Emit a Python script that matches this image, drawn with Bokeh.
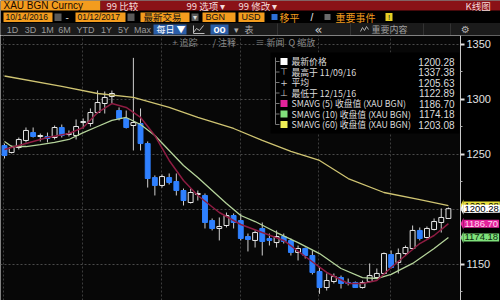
from bokeh.plotting import figure
from bokeh.models import Range1d, FixedTicker, Grid, Label
from bokeh.layouts import column
from bokeh.embed import file_html
from bokeh.resources import INLINE
from bokeh.core.properties import value

# ---------------- data ----------------
opens = [1257.7, 1251.4, 1255.9, 1262.3, 1269.5, 1265.9, 1265.9, 1265.0, 1274.1, 1267.7,
         1266.8, 1278.6, 1277.7, 1287.7, 1295.9, 1302.3, 1289.5, 1282.3, 1275.9, 1277.7,
         1259.5, 1228.6, 1221.4, 1228.6, 1225.0, 1216.8, 1205.9, 1213.2, 1212.3, 1189.5,
         1182.3, 1185.0, 1194.1, 1189.5, 1175.0, 1171.4, 1182.3, 1173.2, 1169.5, 1175.0,
         1171.4, 1160.5, 1164.1, 1157.7, 1143.2, 1128.6, 1134.1, 1137.7, 1133.2, 1133.2,
         1128.6, 1134.1, 1137.7, 1141.4, 1158.6, 1151.4, 1159.5, 1164.1, 1180.5, 1174.1,
         1181.4, 1187.7, 1191.4]
highs = [1259.5, 1257.7, 1265.0, 1274.1, 1274.1, 1268.6, 1269.5, 1275.9, 1276.8, 1271.4,
         1281.4, 1282.3, 1291.4, 1307.7, 1306.8, 1307.7, 1292.3, 1289.5, 1337.38, 1291.4,
         1261.4, 1230.5, 1231.4, 1232.3, 1232.3, 1218.6, 1218.6, 1216.8, 1214.1, 1191.4,
         1192.3, 1196.8, 1195.9, 1195.9, 1177.7, 1180.5, 1187.7, 1177.7, 1180.5, 1177.7,
         1173.2, 1166.8, 1165.0, 1162.3, 1146.8, 1141.4, 1141.4, 1139.5, 1136.8, 1134.1,
         1135.0, 1150.5, 1145.9, 1160.5, 1162.3, 1164.1, 1166.8, 1185.0, 1183.2, 1184.1,
         1191.4, 1200.5, 1201.4]
lows = [1245.9, 1250.5, 1254.1, 1260.5, 1265.0, 1261.4, 1260.5, 1263.2, 1265.0, 1265.9,
        1263.2, 1273.2, 1275.0, 1286.8, 1286.8, 1295.9, 1280.5, 1273.2, 1253.2, 1253.2,
        1219.5, 1212.3, 1219.5, 1222.3, 1212.3, 1203.2, 1205.0, 1207.7, 1182.3, 1180.5,
        1171.4, 1183.2, 1182.3, 1171.4, 1161.4, 1165.0, 1157.7, 1166.8, 1165.0, 1168.6,
        1157.7, 1153.2, 1155.0, 1140.5, 1122.89, 1125.9, 1132.3, 1127.7, 1130.5, 1128.2,
        1127.7, 1133.2, 1136.8, 1140.5, 1145.9, 1141.4, 1157.7, 1163.2, 1171.4, 1173.2,
        1180.5, 1178.6, 1191.4]
closes = [1248.6, 1255.9, 1263.2, 1271.4, 1265.9, 1266.8, 1264.1, 1274.1, 1266.8, 1268.6,
          1275.0, 1279.5, 1287.7, 1296.8, 1301.4, 1305.0, 1282.3, 1274.1, 1278.6, 1259.5,
          1227.7, 1221.4, 1229.5, 1224.1, 1216.8, 1207.7, 1215.0, 1214.1, 1187.7, 1182.3,
          1184.1, 1194.1, 1187.7, 1173.2, 1172.3, 1178.6, 1170.5, 1171.4, 1175.0, 1170.5,
          1160.5, 1164.1, 1157.7, 1142.3, 1128.6, 1135.0, 1138.6, 1132.3, 1132.3, 1128.6,
          1133.2, 1139.5, 1141.4, 1159.5, 1146.8, 1159.5, 1165.0, 1180.5, 1173.2, 1182.3,
          1188.6, 1192.3, 1200.28]

sma5_idx = [0, 3, 6, 9, 11, 13, 15, 17, 19, 21, 23, 25, 27, 30, 33, 36, 39, 42, 45, 48,
            50, 52, 54, 56, 58, 60, 62]
sma5 = [1254.1, 1259.5, 1265.0, 1268.6, 1274.1, 1287.7, 1295.9, 1292.3, 1283.2, 1266.8,
        1244.1, 1225.9, 1212.3, 1196.8, 1185.9, 1178.6, 1171.4, 1156.8, 1142.3, 1132.3,
        1132.3, 1135.0, 1146.8, 1157.7, 1168.6, 1175.9, 1186.70]
sma10_idx = [0, 1, 3, 5, 7, 9, 11, 13, 15, 17, 19, 21, 23, 25, 27, 29, 31, 33, 35, 38,
             41, 44, 47, 50, 52, 54, 57, 60, 62]
sma10 = [1261.4, 1256.8, 1256.8, 1258.6, 1260.5, 1263.2, 1269.5, 1275.0, 1280.5, 1283.2,
         1276.8, 1266.8, 1253.2, 1239.5, 1228.6, 1216.8, 1205.0, 1194.1, 1188.6, 1178.6,
         1169.5, 1159.5, 1145.9, 1137.7, 1136.8, 1140.5, 1150.5, 1164.1, 1174.18]
sma60_idx = [0, 8, 13, 18, 23, 27, 32, 36, 40, 44, 48, 53, 58, 62]
sma60 = [1320.9, 1311.4, 1305.0, 1301.4, 1292.3, 1283.2, 1273.2, 1262.3, 1252.3, 1244.1,
         1227.7, 1215.0, 1208.6, 1203.08]

price_ticks = [1150, 1200, 1250, 1300, 1350]
minor_price_ticks = [1125, 1175, 1225, 1275, 1325]

legend_labels = ["最新价格", "最高于 11/09/16", "平均", "最低于 12/15/16",
                 "SMAVG (5) 收盘值 (XAU BGN)", "SMAVG (10) 收盘值 (XAU BGN)",
                 "SMAVG (60) 收盘值 (XAU BGN)"]
legend_values = ["1200.28", "1337.38", "1205.63", "1122.89", "1186.70", "1174.18", "1203.08"]

tag_values = [1203.08, 1200.28, 1186.70, 1174.18]

# ---------------- geometry helpers (page pixels -> data) ----------------
X0, DX = 4.0, 7.16
PY_REF, PPU = 208.5, 1.1
def X(px):
    return (px - X0) / DX
def Y(py):
    return 1200 + (PY_REF - py) / PPU

CJK = value("Noto Sans CJK SC")
LAT = value("Liberation Sans")

# ---------------- header ----------------
h = figure(width=500, height=35, x_range=Range1d(0, 500), y_range=Range1d(35, 0),
           x_axis_location=None, y_axis_location=None, toolbar_location=None,
           output_backend="svg", min_border=0, background_fill_color="#000000",
           border_fill_color="#000000", outline_line_color=None)
h.grid.visible = False

ORANGE = "#f39c1e"
h.quad(left=[0], right=[100], top=[0], bottom=[10], fill_color=ORANGE, line_color=None)
h.quad(left=[100], right=[500], top=[0], bottom=[10], fill_color="#8a1217", line_color=None)
h.text(x=[3], y=[5.2], text=["XAU BGN Curncy"], text_font=LAT, text_font_size=value("10px"),
       text_color="#1a0a00", text_baseline="middle")
h.text(x=[106, 186, 238, 465], y=[5.2] * 4, text=["99 比较", "99 选项 ▾", "99 修改 ▾", "K线图"],
       text_font=CJK, text_font_size=value("9.5px"), text_color="#f4dada", text_baseline="middle")

# row 2
h.quad(left=[3, 75, 140, 202, 238], right=[52, 125, 189, 235, 264],
       top=[12] * 5, bottom=[21.5] * 5, fill_color=ORANGE, line_color=None)
h.text(x=[5, 77], y=[16.8] * 2, text=["10/14/2016", "01/12/2017"], text_font=LAT,
       text_font_size=value("8.5px"), text_color="#111111", text_baseline="middle")
h.text(x=[143], y=[16.8], text=["最新交易"], text_font=CJK, text_font_size=value("9.5px"),
       text_color="#111111", text_baseline="middle")
h.text(x=[205, 241], y=[16.8] * 2, text=["BGN", "USD"], text_font=LAT,
       text_font_size=value("9px"), text_color="#111111", text_baseline="middle")
h.quad(left=[54, 127, 191], right=[61, 134, 198], top=[13, 13, 13], bottom=[20.5] * 3,
       fill_color="#5a5a5a", line_color=None)
h.text(x=[194.5], y=[16.8], text=["▾"], text_font=value("DejaVu Sans"),
       text_font_size=value("8px"), text_color="#dddddd", text_baseline="middle", text_align="center")
h.text(x=[65], y=[16.5], text=["-"], text_font=LAT, text_font_size=value("10px"),
       text_color="#cccccc", text_baseline="middle")
h.quad(left=[271], right=[277], top=[13.5], bottom=[19.5], fill_color="#2d6fd6", line_color=None)
h.quad(left=[324], right=[330], top=[13.5], bottom=[19.5], fill_color="#6a6a6a", line_color=None)
h.text(x=[279, 335], y=[16.8] * 2, text=["移平", "重要事件"], text_font=CJK,
       text_font_size=value("10px"), text_color=ORANGE, text_baseline="middle")
h.text(x=[310], y=[16.5], text=["/"], text_font=LAT, text_font_size=value("10px"),
       text_color="#eeeeee", text_baseline="middle")
h.quad(left=[385], right=[392], top=[12.5], bottom=[20.5], fill_color="#e6cf25", line_color=None)
h.text(x=[388.5], y=[16.8], text=["!"], text_font=LAT, text_font_size=value("8px"),
       text_color="#222222", text_baseline="middle", text_align="center")

# row 3
h.quad(left=[0], right=[500], top=[22.5], bottom=[35], fill_color="#1b1b1b", line_color=None)
h.segment(x0=[277, 350, 423, 450], y0=[23] * 4, x1=[277, 350, 423, 450], y1=[34.5] * 4,
          line_color="#333333", line_width=1)
h.text(x=[12, 30, 47, 64, 85, 106, 123, 142], y=[29] * 8,
       text=["1D", "3D", "1M", "6M", "YTD", "1Y", "5Y", "Max"], text_font=LAT,
       text_font_size=value("9px"), text_color="#9a9a9a", text_baseline="middle", text_align="center")
h.quad(left=[153, 210], right=[186, 228], top=[24] * 2, bottom=[34] * 2,
       fill_color="#2b5ea8", line_color=None)
h.text(x=[156], y=[29], text=["每日 ▼"], text_font=CJK, text_font_size=value("9px"),
       text_color="#ffffff", text_baseline="middle")
h.text(x=[219], y=[28.5], text=["oo"], text_font=LAT, text_font_size=value("10px"),
       text_color="#ffffff", text_baseline="middle", text_align="center", text_font_style="bold")
h.line(x=[193, 196, 199, 203], y=[32, 28, 30, 25], line_color="#bbbbbb", line_width=1)
h.line(x=[193, 193, 204], y=[25, 33, 33], line_color="#bbbbbb", line_width=1)
h.text(x=[233, 244], y=[29] * 2, text=["▾", "表"], text_font=CJK, text_font_size=value("9px"),
       text_color="#aaaaaa", text_baseline="middle")
h.text(x=[318], y=[28.5], text=["«"], text_font=value("DejaVu Sans"), text_font_size=value("13px"),
       text_color="#d0d0d0", text_baseline="middle", text_align="center")
h.line(x=[360, 362, 364, 366, 368], y=[31, 27, 30, 26, 29], line_color="#aaaaaa", line_width=1)
h.text(x=[371], y=[29], text=["重要内容"], text_font=CJK, text_font_size=value("9px"),
       text_color="#a0a0a0", text_baseline="middle")
h.text(x=[465], y=[29], text=["⚙"], text_font=value("DejaVu Sans"), text_font_size=value("10px"),
       text_color="#b0b0b0", text_baseline="middle", text_align="center")

# ---------------- chart ----------------
AXIS_PX = 460
p = figure(width=500, height=265, x_range=Range1d(X(0), X(500)), y_range=Range1d(Y(300), Y(35)),
           x_axis_location=None, y_axis_location="right", toolbar_location=None,
           output_backend="svg", min_border_left=0, min_border_right=0, min_border_top=0,
           min_border_bottom=0, background_fill_color="#070707", border_fill_color="#000000",
           outline_line_color=None)
p.grid.visible = False

ax = p.yaxis[0]
ax.fixed_location = X(AXIS_PX)
ax.ticker = FixedTicker(ticks=price_ticks, minor_ticks=minor_price_ticks)
ax.axis_line_color = "#c8c8c8"
ax.axis_line_width = 1
ax.major_tick_in = 0
ax.major_tick_out = 4
ax.major_tick_line_color = "#e0e0e0"
ax.major_tick_line_width = 2
ax.minor_tick_in = 0
ax.minor_tick_out = 2
ax.minor_tick_line_color = "#aaaaaa"
ax.major_label_text_color = "#e2e2e2"
ax.major_label_text_font = "Liberation Sans"
ax.major_label_text_font_size = "11px"
ax.major_label_standoff = 2

vgrid_px = [3, 82, 161, 240, 318, 390]
p.add_layout(Grid(dimension=1, ticker=FixedTicker(ticks=price_ticks), grid_line_color="#4a4a4a",
                  grid_line_dash="2 2", grid_line_width=1))
p.add_layout(Grid(dimension=0, ticker=FixedTicker(ticks=[X(v) for v in vgrid_px]),
                  grid_line_color="#3c3c3c", grid_line_dash="2 2", grid_line_width=1))

# black strip right of the axis (hides grid lines there)
p.quad(left=[X(AXIS_PX)], right=[X(500)], top=[Y(35)], bottom=[Y(300)], fill_color="#000000",
       line_color=None)

idx = list(range(len(closes)))
up = [c >= o for o, c in zip(opens, closes)]
tops = [max(o, c) for o, c in zip(opens, closes)]
bots = [min(o, c) for o, c in zip(opens, closes)]
BLUE = "#2f80ff"
p.segment(x0=idx, y0=highs, x1=idx, y1=lows, line_color="#cfcfcf", line_width=1)
p.vbar(x=idx, width=0.68, top=tops, bottom=bots,
       fill_color=["#070707" if u else BLUE for u in up],
       line_color=["#e8e8e8" if u else BLUE for u in up], line_width=1)

p.line(x=sma60_idx, y=sma60, line_color="#cfc472", line_width=1.3)
p.line(x=sma10_idx, y=sma10, line_color="#b4d39a", line_width=1.3)
p.line(x=sma5_idx, y=sma5, line_color="#8e1c42", line_width=1.5)

# toolbar row inside chart
p.text(x=[X(172), X(212), X(255), X(288)], y=[Y(42)] * 4,
       text=["+ 追踪", "/ 注释", "≡ 新闻", "Q 缩放"], text_font=CJK, text_font_size=value("9px"),
       text_color="#8a8a8a", text_baseline="middle")

# legend box
p.quad(left=[X(270)], right=[X(459)], top=[Y(52)], bottom=[Y(133)], fill_color="#000000",
       line_color=None)
row_py = [61, 71.5, 82, 92.5, 103, 113.5, 124]
p.segment(x0=[X(275)], y0=[Y(57)], x1=[X(275)], y1=[Y(124)], line_color="#777777", line_width=1)
p.segment(x0=[X(275)] * 7, y0=[Y(v) for v in row_py], x1=[X(279)] * 7, y1=[Y(v) for v in row_py],
          line_color="#777777", line_width=1)
sq_rows = [0, 4, 5, 6]
sq_colors = ["#ffffff", "#e3239b", "#80e07c", "#eeee55"]
p.rect(x=[X(283.5)] * 4, y=[Y(row_py[r]) for r in sq_rows], width=7 / DX, height=7 / PPU,
       fill_color=sq_colors, line_color=None)
p.text(x=[X(283.5)] * 3, y=[Y(row_py[r]) for r in (1, 2, 3)], text=["⊤", "+", "⊥"],
       text_font=value("DejaVu Sans"), text_font_size=value("9px"), text_color="#cccccc",
       text_baseline="middle", text_align="center")
p.text(x=[X(291)] * 7, y=[Y(v) for v in row_py], text=legend_labels, text_font=CJK,
       text_font_size=value("8.8px"), text_color="#dcdcdc", text_baseline="middle")
p.text(x=[X(454)] * 7, y=[Y(v) for v in row_py], text=legend_values, text_font=LAT,
       text_font_size=value("10px"), text_color="#dcdcdc", text_baseline="middle", text_align="right")

# price tags on the axis
tag_bg = ["#e8e03a", "#ffffff", "#e3239b", "#7ee07a"]
tag_fg = ["#000000", "#000000", "#ffd6f0", "#0c2a0c"]
half = 6.0 / PPU
p.patches(xs=[[X(460), X(463), X(463)] for v in tag_values],
          ys=[[v, v + half, v - half] for v in tag_values], fill_color=tag_bg, line_color=None)
for v, bg, fg in zip(tag_values, tag_bg, tag_fg):
    p.add_layout(Label(x=X(463), y=v, text=f"{v:.2f}",
                       text_font="Liberation Sans", text_font_size="9.5px", text_color=fg,
                       text_baseline="middle", text_align="left", background_fill_color=bg,
                       background_fill_alpha=1.0, border_line_color=None, padding=1))

layout = column(h, p, spacing=0)
open("out.html", "w").write(file_html(layout, INLINE))
